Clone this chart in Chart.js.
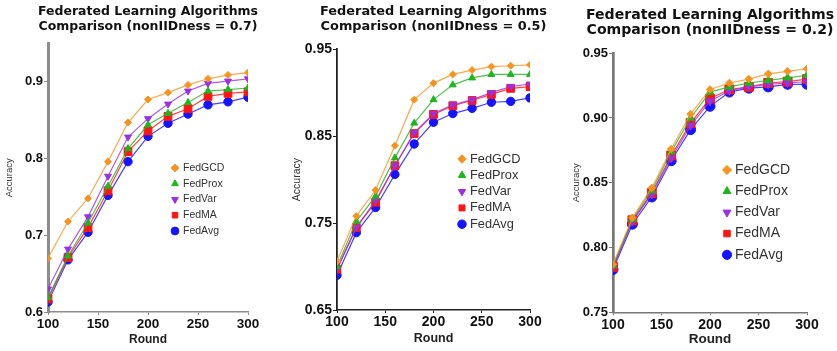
<!DOCTYPE html>
<html lang="en">
<head>
    <meta charset="UTF-8">
    <title>Federated Learning Algorithms Comparison</title>
    <script src="https://cdn.jsdelivr.net/npm/chart.js"></script>
    <style>
        body {
            margin: 0;
            background: #fff;
        }
        canvas.panel {
            position: absolute;
            top: 0;
        }
    </style>
</head>
<body>

    <canvas id="c07" class="panel" width="280" height="351" style="left:0"></canvas>
    <canvas id="c05" class="panel" width="280" height="351" style="left:280px"></canvas>
    <canvas id="c02" class="panel" width="277" height="351" style="left:560px"></canvas>

    <script>
        // Rounds on the x axis
        const rounds = [100, 120, 140, 160, 180, 200, 220, 240, 260, 280, 300];
        const names = ['FedGCD', 'FedProx', 'FedVar', 'FedMA', 'FedAvg'];

        // nonIIDness = 0.7
        const gcd07  = [0.670, 0.718, 0.748, 0.796, 0.847, 0.877, 0.886, 0.896, 0.904, 0.909, 0.912];
        const prox07 = [0.619, 0.673, 0.716, 0.764, 0.813, 0.844, 0.859, 0.873, 0.888, 0.890, 0.892];
        const var07  = [0.630, 0.682, 0.724, 0.777, 0.828, 0.852, 0.871, 0.888, 0.898, 0.901, 0.904];
        const ma07   = [0.617, 0.671, 0.710, 0.758, 0.809, 0.836, 0.855, 0.865, 0.881, 0.885, 0.887];
        const avg07  = [0.613, 0.668, 0.704, 0.752, 0.796, 0.829, 0.846, 0.858, 0.870, 0.874, 0.880];

        // nonIIDness = 0.5
        const gcd05  = [0.706, 0.758, 0.788, 0.839, 0.892, 0.911, 0.921, 0.926, 0.930, 0.931, 0.932];
        const prox05 = [0.700, 0.752, 0.781, 0.825, 0.865, 0.892, 0.909, 0.917, 0.921, 0.921, 0.921];
        const var05  = [0.697, 0.745, 0.776, 0.816, 0.854, 0.876, 0.886, 0.892, 0.900, 0.907, 0.910];
        const ma05   = [0.697, 0.745, 0.774, 0.816, 0.853, 0.875, 0.885, 0.891, 0.898, 0.905, 0.907];
        const avg05  = [0.690, 0.739, 0.768, 0.806, 0.841, 0.866, 0.876, 0.882, 0.889, 0.890, 0.894];

        // nonIIDness = 0.2
        const gcd02  = [0.787, 0.823, 0.846, 0.876, 0.903, 0.922, 0.927, 0.930, 0.934, 0.936, 0.938];
        const prox02 = [0.786, 0.822, 0.844, 0.874, 0.900, 0.920, 0.924, 0.927, 0.929, 0.931, 0.933];
        const var02  = [0.785, 0.820, 0.841, 0.869, 0.894, 0.913, 0.921, 0.924, 0.926, 0.927, 0.928];
        const ma02   = [0.785, 0.821, 0.842, 0.871, 0.896, 0.915, 0.922, 0.924, 0.927, 0.928, 0.930];
        const avg02  = [0.783, 0.818, 0.839, 0.867, 0.891, 0.909, 0.920, 0.923, 0.924, 0.926, 0.926];

        // marker look per algorithm
        const colors = ['#f7931e', '#1fb51f', '#9b30e6', '#ff1414', '#1414ff'];
        const lineColors = ['rgba(247,147,30,0.8)', 'rgba(31,181,31,0.8)', 'rgba(155,48,230,0.8)', 'rgba(255,20,20,0.8)', 'rgba(20,20,255,0.8)'];
        const pointStyles = ['rectRot', 'triangle', 'triangle', 'rect', 'circle'];
        const rotations = [0, 0, 180, 0, 0];

        const FONT = '"Liberation Sans", Arial, Helvetica, sans-serif';
        const TITLE_FONT = '"DejaVu Sans", Verdana, sans-serif';

        // puts the built-in legend inside the plot and lets the title
        // run wider than the plot area (it stays centred over the plot)
        function placeBoxes(markerX, firstRowY) {
            return {
                id: 'placeBoxes',
                afterLayout(chart) {
                    const lg = chart.legend;
                    const lab = chart.options.plugins.legend.labels;
                    const w = lg.width, h = lg.height;
                    lg.left = markerX - lab.boxWidth / 2 - lab.padding;
                    lg.top = firstRowY - lab.font.size / 2 - lab.padding;
                    lg.right = lg.left + w;
                    lg.bottom = lg.top + h;

                    const tb = chart.titleBlock;
                    const mid = (chart.chartArea.left + chart.chartArea.right) / 2;
                    tb.left = mid - 150;
                    tb.right = mid + 150;
                    tb.width = 300;
                }
            };
        }

        function drawPanel(id, titleText, series, yMin, yMax, yStep, decimals, look) {
            const datasets = names.map((n, i) => ({
                label: n,
                data: rounds.map((r, j) => ({ x: r, y: series[i][j] })),
                borderColor: lineColors[i],
                backgroundColor: colors[i],
                pointBackgroundColor: colors[i],
                pointBorderColor: colors[i],
                borderWidth: 1.2,
                pointBorderWidth: 1,
                pointStyle: pointStyles[i],
                pointRotation: rotations[i],
                pointRadius: look.radius[i],
                tension: 0
            }));

            new Chart(document.getElementById(id), {
                type: 'line',
                data: { datasets: datasets },
                options: {
                    responsive: false,
                    animation: false,
                    layout: { padding: { left: 0, right: look.padRight, top: 0, bottom: 0 } },
                    plugins: {
                        title: {
                            display: true,
                            fullSize: false,
                            text: titleText,
                            color: '#111',
                            font: { family: TITLE_FONT, size: look.titleSize, weight: 'bold', lineHeight: look.titleLH },
                            padding: { top: look.titleTop, bottom: look.titleBottom }
                        },
                        legend: {
                            position: 'chartArea',
                            align: 'start',
                            labels: {
                                usePointStyle: true,
                                boxWidth: look.legBoxW,
                                boxHeight: look.legBoxH,
                                padding: look.legPad,
                                color: '#333',
                                font: { family: FONT, size: look.legSize, lineHeight: 1 }
                            }
                        },
                        tooltip: { enabled: false }
                    },
                    scales: {
                        x: {
                            type: 'linear',
                            min: 100,
                            max: 300,
                            afterFit: s => { s.height = look.xHeight; },
                            border: { color: look.axisColor, width: look.xAxisWidth },
                            grid: { drawOnChartArea: false, tickLength: 3, color: look.axisColor, lineWidth: 1 },
                            ticks: {
                                stepSize: 50,
                                padding: 1,
                                color: '#111',
                                maxRotation: 0,
                                font: { family: FONT, size: look.xTickSize, weight: 'bold' }
                            },
                            title: {
                                display: true,
                                text: 'Round',
                                color: '#222',
                                font: { family: FONT, size: look.xTitleSize, weight: 'bold', lineHeight: 1.2 },
                                padding: { top: 0, bottom: look.xTitlePad }
                            }
                        },
                        y: {
                            min: yMin,
                            max: yMax,
                            afterFit: s => { s.width = look.yWidth; },
                            border: { color: look.axisColor, width: look.yAxisWidth },
                            grid: { drawOnChartArea: false, tickLength: 4, color: look.axisColor, lineWidth: 1 },
                            ticks: {
                                stepSize: yStep,
                                includeBounds: false,
                                padding: 1,
                                color: '#111',
                                font: { family: FONT, size: look.yTickSize, weight: 'bold' },
                                callback: v => Number(v).toFixed(decimals)
                            },
                            title: {
                                display: true,
                                text: 'Accuracy',
                                color: '#333',
                                font: { family: FONT, size: look.yTitleSize, lineHeight: 1.2 },
                                padding: { top: look.yTitlePad, bottom: 0 }
                            }
                        }
                    }
                },
                plugins: [placeBoxes(look.legX, look.legY)]
            });
        }

        drawPanel('c07', ['Federated Learning Algorithms', 'Comparison (nonIIDness = 0.7)'],
            [gcd07, prox07, var07, ma07, avg07], 0.6, 0.95, 0.1, 1, {
                padRight: 32, yWidth: 48, xHeight: 39,
                titleSize: 12.5, titleLH: 1.2, titleTop: 4.2, titleBottom: 9.3,
                axisColor: '#8c8c8c', xAxisWidth: 1.5, yAxisWidth: 3,
                xTickSize: 13.5, yTickSize: 13, xTitleSize: 12, xTitlePad: 4,
                yTitleSize: 9.5, yTitlePad: 4,
                radius: [3.5, 4, 4, 5.5, 4.2],
                legX: 175, legY: 168, legSize: 10.5, legPad: 5.25, legBoxW: 5.5, legBoxH: 5.5
            });

        drawPanel('c05', ['Federated Learning Algorithms', 'Comparison (nonIIDness = 0.5)'],
            [gcd05, prox05, var05, ma05, avg05], 0.65, 0.95, 0.1, 2, {
                padRight: 30, yWidth: 57, xHeight: 41,
                titleSize: 12.9, titleLH: 1.16, titleTop: 4.2, titleBottom: 15.1,
                axisColor: '#222', xAxisWidth: 1.5, yAxisWidth: 1.8,
                xTickSize: 14, yTickSize: 14, xTitleSize: 12.5, xTitlePad: 5,
                yTitleSize: 10.5, yTitlePad: 10.5,
                radius: [3.5, 4, 4, 5.5, 4.2],
                legX: 182, legY: 159, legSize: 12.8, legPad: 3.5, legBoxW: 3.2, legBoxH: 6
            });

        drawPanel('c02', ['Federated Learning Algorithms', 'Comparison (nonIIDness = 0.2)'],
            [gcd02, prox02, var02, ma02, avg02], 0.75, 0.95, 0.05, 2, {
                padRight: 30, yWidth: 53, xHeight: 38.7,
                titleSize: 14.1, titleLH: 1.11, titleTop: 7.15, titleBottom: 14.75,
                axisColor: '#777', xAxisWidth: 1.5, yAxisWidth: 2.7,
                xTickSize: 14, yTickSize: 13, xTitleSize: 13.5, xTitlePad: 4,
                yTitleSize: 9.5, yTitlePad: 11,
                radius: [3.8, 4.5, 4.5, 6.3, 5],
                legX: 167, legY: 170, legSize: 14, legPad: 7.2, legBoxW: 2, legBoxH: 6.5
            });
    </script>

</body>
</html>
